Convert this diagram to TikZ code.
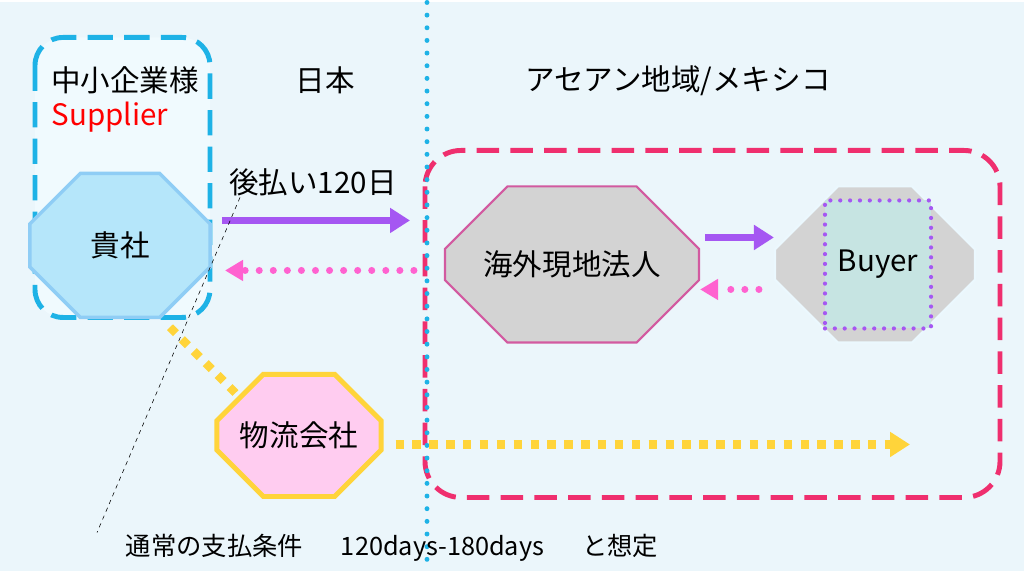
\documentclass[tikz,border=0pt]{standalone}
\usepackage{fontspec}
\setmainfont{Noto Sans CJK JP}
\usetikzlibrary{shapes.misc,arrows.meta,positioning}
\definecolor{bgblue}{HTML}{EBF6FB}
\definecolor{cyanline}{HTML}{1EB2E6}
\definecolor{pinkline}{HTML}{EF2F6E}
\definecolor{kishafill}{HTML}{B5E6FA}
\definecolor{kishaline}{HTML}{8FCDF5}
\definecolor{grayfill}{HTML}{D3D3D3}
\definecolor{magline}{HTML}{D25AA0}
\definecolor{purparrow}{HTML}{A557F2}
\definecolor{pinkdot}{HTML}{FF62D0}
\definecolor{yellowline}{HTML}{FFD43A}
\definecolor{butsufill}{HTML}{FFCCF0}
\definecolor{buyerin}{HTML}{C6E4E2}
\tikzset{
  octa/.style={chamfered rectangle, chamfered rectangle xsep=0.9cm, chamfered rectangle ysep=0.8cm, line width=2.5pt, font=\fontsize{21}{24}\selectfont},
  lbl/.style={font=\fontsize{21}{24}\selectfont},
  solidarrow/.style={purparrow, line width=5pt, -{Triangle[length=0.5cm,width=0.6cm]}},
  pinkdots/.style={pinkdot, line width=5pt, line cap=round, dash pattern=on 0pt off 10pt, -{Triangle[length=0.45cm,width=0.5cm]}},
  yellowdots/.style={yellowline, line width=6pt, dash pattern=on 6pt off 6pt}
}
\begin{document}
\begin{tikzpicture}[x=0.025cm,y=-0.025cm]
	\fill[bgblue] (0,0) rectangle (1024,569);
	% Rahmen
	\draw[cyanline, line width=3.5pt, dash pattern=on 18pt off 8pt, rounded corners=0.7cm, fill=cyan!6] (35,35) rectangle (210,315);
	\draw[pinkline, line width=3.5pt, dash pattern=on 16pt off 8pt, rounded corners=0.9cm] (425,148) rectangle (1000,495);
	\draw[cyanline, line width=3.5pt, line cap=round, dash pattern=on 0pt off 9pt] (427,0) -- (427,569);
	% Ueberschriften
	\node[lbl] (sme) at (125,78) {中小企業様};
	\node[lbl, text=red] (supplier) at (110,115) {Supplier};
	\node[lbl] (japan) at (325,78) {日本};
	\node[lbl] (asean) at (678,78) {アセアン地域/メキシコ};
	% Knoten
	\node[octa, draw=kishaline, fill=kishafill, minimum width=4.5cm, minimum height=3.6cm] (kisha) at (120,243) {貴社};
	\node[octa, draw=magline, fill=grayfill, line width=1.5pt, chamfered rectangle xsep=1.1cm, chamfered rectangle ysep=1.1cm, minimum width=6.35cm, minimum height=3.9cm] (kaigai) at (572,262) {海外現地法人};
	\node[octa, draw=cyan!8, fill=grayfill, line width=1.5pt, chamfered rectangle xsep=1.1cm, chamfered rectangle ysep=1.1cm, minimum width=5cm, minimum height=3.9cm] (buyer) at (875,262) {\phantom{Buyer}};
	\node[draw=purparrow, fill=buyerin, line width=3pt, dash pattern=on 0pt off 7pt, line cap=round, minimum width=2.65cm, minimum height=3.2cm, lbl] (buyerin) at (878,262) {Buyer};
	\node[octa, draw=yellowline, fill=butsufill, line width=3.5pt, chamfered rectangle xsep=0.7cm, chamfered rectangle ysep=0.7cm, minimum width=4cm, minimum height=3.05cm] (butsuryu) at (299,433) {物流会社};
	% Pfeile
	\coordinate (payend) at (410,218);
	\coordinate (retend) at (225,268);
	\coordinate (shipend) at (910,442);
	\node[lbl] (atobarai) at (313,180) {後払い120日};
	\draw[solidarrow] (kisha.east |- payend) ++(10,0) -- (payend);
	\draw[pinkdots] (kaigai.west |- retend) ++(-30,0) -- (retend);
	\draw[solidarrow] (kaigai.east |- 0,235) ++(5,0) -- (buyer.west |- 0,235);
	\draw[pinkdots] (buyer.west |- 0,287) ++(-15,0) -- (kaigai.east |- 0,287);
	\draw[yellowdots] (kisha.south) ++(50,8) -- (butsuryu.north west);
	\draw[yellowdots, -{Triangle[length=0.5cm,width=0.6cm]}] (butsuryu.east |- shipend) ++(12,0) -- (shipend);
	% Hinweis
	\coordinate (notetop) at (240,195);
	\coordinate (notebot) at (97,530);
	\draw[black, dashed, thin] (notetop) -- (notebot);
	\node[font=\fontsize{18}{21}\selectfont] (note) at (392,545) {通常の支払条件\quad\enspace 120days-180days\quad\enspace と想定};
\end{tikzpicture}
\end{document}
